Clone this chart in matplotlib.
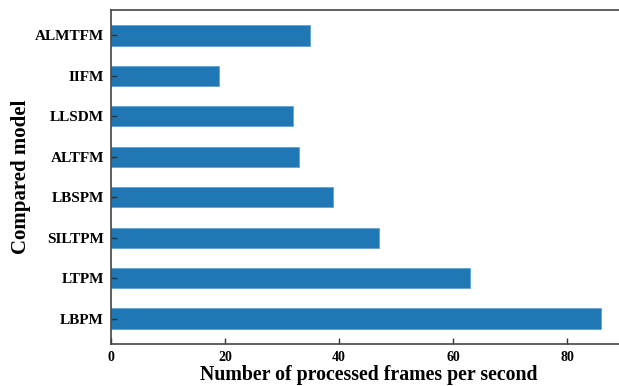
import matplotlib
matplotlib.use("Agg")
from matplotlib import pyplot as plt

models = ["LBPM", "LTPM", "SILTPM", "LBSPM", "ALTFM", "LLSDM", "IIFM", "ALMTFM"]
fps = [86, 63, 47, 39, 33, 32, 19, 35]

plt.rcParams["font.family"] = ["Liberation Serif", "DejaVu Serif"]
plt.rcParams["font.weight"] = "bold"

fig = plt.figure(figsize=(6.19, 3.86), dpi=100)
ax = fig.add_axes([0.1793, 0.1088, 0.8315, 0.8653])

ax.barh(range(len(models)), fps, height=0.5, color="#1f77b4",
        edgecolor="#5fa3d6", linewidth=0.6)
ax.set_yticks(range(len(models)))
ax.set_yticklabels(models, fontsize=11, fontweight="bold")
ax.set_ylim(-0.63, 7.63)
ax.set_xlim(0, 90.3)
ax.set_xticks([0, 20, 40, 60, 80])
ax.tick_params(axis="both", direction="in", length=4, width=1, color="#333333")
ax.tick_params(axis="x", labelsize=10, pad=5)
ax.tick_params(axis="y", pad=5)
for lbl in ax.get_xticklabels():
    lbl.set_fontweight("bold")

ax.set_xlabel("Number of processed frames per second", fontsize=14.3,
              fontweight="bold", labelpad=1)
ax.set_ylabel("Compared model", fontsize=15, fontweight="bold", labelpad=3)

for side in ["left", "bottom", "top"]:
    ax.spines[side].set_color("#444444")
    ax.spines[side].set_linewidth(1.2)

plt.savefig("out.png", dpi=100)
